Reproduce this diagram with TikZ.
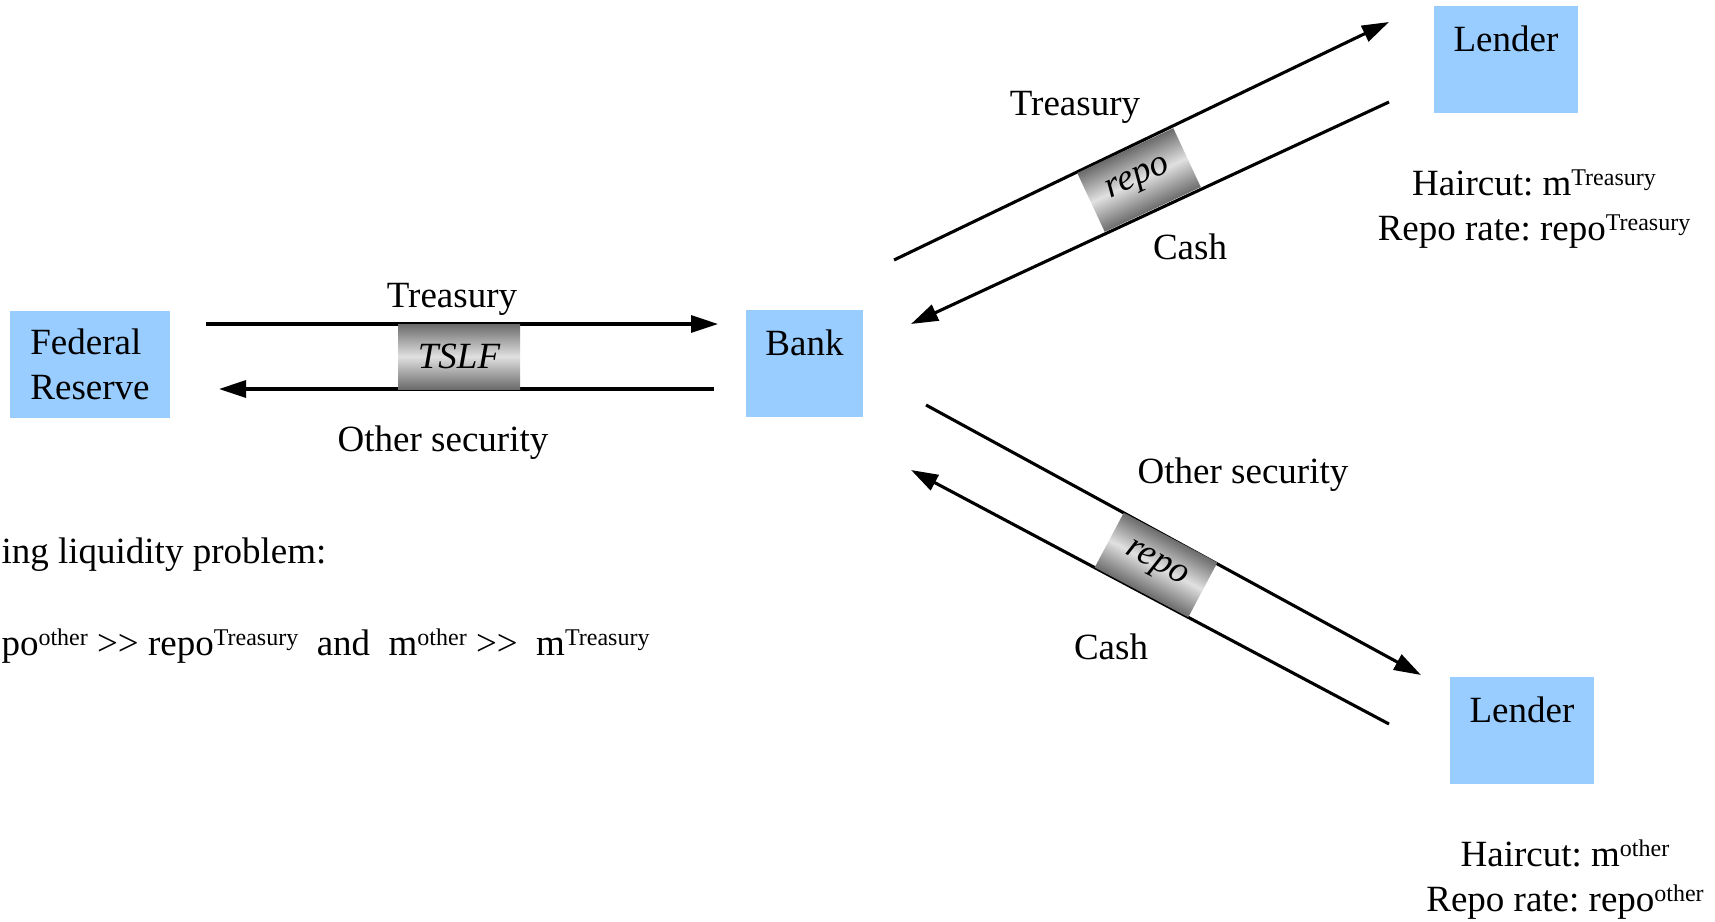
\documentclass[tikz,border=0pt]{standalone}
\usepackage{fontspec}
\setmainfont{Liberation Serif}
\usetikzlibrary{arrows.meta}
\definecolor{partyblue}{HTML}{99CCFF}
\newcommand{\upidx}[1]{\raisebox{10pt}{\fontsize{24}{26}\selectfont #1}}
\frenchspacing

\begin{document}
\begin{tikzpicture}[x=1pt,y=-1pt,line width=3.1pt,
  font=\fontsize{37}{45}\selectfont,
  party/.style={fill=partyblue,inner sep=0pt,minimum width=144pt,minimum height=107pt},
  partyname/.style={anchor=north,inner sep=0pt,yshift=-20pt},
  flow/.style={-{Triangle[length=27pt,width=17pt]}},
  deal/.style={inner sep=0pt,minimum width=106pt,minimum height=65pt,
    top color=black!58,bottom color=black!58,middle color=black!12,
    font=\fontsize{37}{45}\selectfont\itshape}]
  \useasboundingbox (0,0) rectangle (1715,921);
  % parties
  \node[party,minimum width=160pt,align=left] (fed) at (90,364) {Federal\\Reserve};
  \node[party,minimum width=117pt,label={[partyname]north:Bank}] (bank) at (804.5,363.5) {};
  \node[party,label={[partyname]north:Lender}] (lenderA) at (1506,59) {};
  \node[party,label={[partyname]north:Lender}] (lenderB) at (1522,730.5) {};
  % TSLF swap
  \coordinate (fedout) at (206,324);
  \coordinate (bankin) at (718,324);
  \coordinate (bankout) at (714,389);
  \coordinate (fedin) at (219,389);
  \draw[flow] (fedout)--(bankin);
  \draw[flow] (bankout)--(fedin);
  \node[deal,minimum width=122pt] (tslf) at (459,356.5) {TSLF};
  \node (tsyA) at (452,299) {Treasury};
  \node (othA) at (443,443) {Other security};
  % repo with Treasury collateral
  \coordinate (bankupA) at (894,260);
  \coordinate (lenderinA) at (1389,22);
  \coordinate (lenderoutA) at (1389,102);
  \coordinate (bankdnA) at (911,324);
  \draw[flow] (bankupA)--(lenderinA);
  \draw[flow] (lenderoutA)--(bankdnA);
  \begin{scope}[transform canvas={shift={(1139,180)},rotate=25}]
    \node[deal] (repoA) at (0,0) {repo};
  \end{scope}
  \node (tsyB) at (1075,107) {Treasury};
  \node (cashA) at (1190,247) {Cash};
  \node[align=center] (termsA) at (1534,209) {Haircut: m\upidx{Treasury}\\Repo rate: repo\upidx{Treasury}};
  % repo with other collateral
  \coordinate (bankupB) at (926,405);
  \coordinate (lenderinB) at (1421,675);
  \coordinate (lenderoutB) at (1389,724);
  \coordinate (bankdnB) at (911,470);
  \draw[flow] (bankupB)--(lenderinB);
  \draw[flow] (lenderoutB)--(bankdnB);
  \begin{scope}[transform canvas={shift={(1156,565)},rotate=-28}]
    \node[deal,minimum height=62pt] (repoB) at (0,0) {repo};
  \end{scope}
  \node (othB) at (1243,475) {Other security};
  \node (cashB) at (1111,647) {Cash};
  \node[align=center] (termsB) at (1565,880) {Haircut: m\upidx{other}\\Repo rate: repo\upidx{other}};
  % problem statement
  \node[anchor=west,inner sep=0pt] (issue) at (0,555) {ing liquidity problem:};
  \node[anchor=west,inner sep=0pt] (cond) at (0,646) {po\upidx{other} >{}> repo\upidx{Treasury}\ \ and\ \ m\upidx{other} >{}>\ \ m\upidx{Treasury}};
\end{tikzpicture}
\end{document}
